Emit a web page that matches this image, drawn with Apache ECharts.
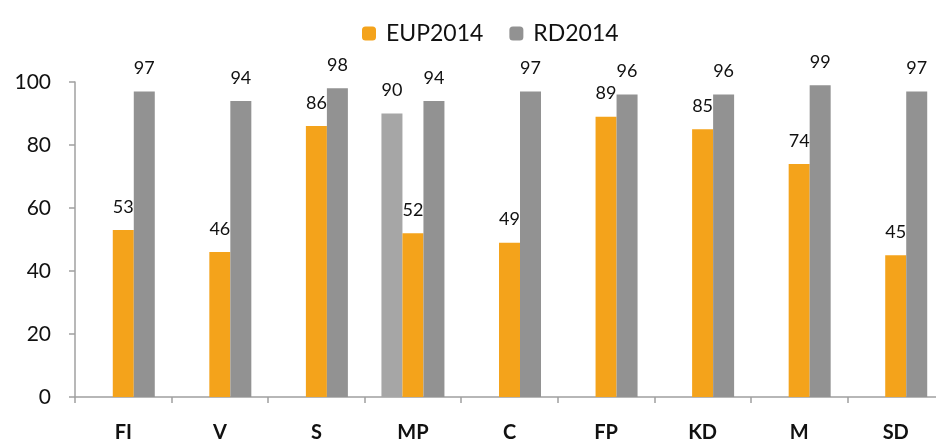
<!DOCTYPE html>
<html><head><meta charset="utf-8">
<script src="https://cdn.jsdelivr.net/npm/echarts@6/dist/echarts.min.js"></script>
<style>html,body{margin:0;padding:0;background:#fff;overflow:hidden}#c{width:936px;height:439px}</style>
</head><body><div id="c"></div>
<script>
const categories = ['FI','V','S','MP','C','FP','KD','M','SD'];
const extraValues = [null,null,null,90,null,null,null,null,null];
const eupValues = [53,46,86,52,49,89,85,74,45];
const rdValues = [97,94,98,94,97,96,96,99,97];
const yTicks = [0,20,40,60,80,100];

const font = 'Lato, "Liberation Sans", sans-serif';
const label = {show:true, position:'top', distance:14, fontSize:18, color:'#111', fontFamily:font};
const chart = echarts.init(document.getElementById('c'));
chart.setOption({
  animation:false,
  textStyle:{fontFamily:font},
  legend:{data:['EUP2014','RD2014'], top:17, left:357, itemWidth:14, itemHeight:14, itemGap:26,
    textStyle:{fontSize:23, color:'#111', fontFamily:font, padding:[0,0,0,5]}},
  grid:{left:75, width:869, top:82, bottom:42, outerBoundsMode:'none', containLabel:false},
  xAxis:{type:'category', data:categories,
    axisLine:{lineStyle:{color:'#A0A0A0', width:1.5}},
    axisTick:{show:true, length:6, lineStyle:{color:'#A0A0A0', width:1.5}},
    axisLabel:{fontSize:20, fontWeight:'bold', color:'#111', margin:26, fontFamily:font}},
  yAxis:{type:'value', min:yTicks[0], max:yTicks[yTicks.length-1], interval:20,
    splitLine:{show:false},
    axisLine:{show:true, lineStyle:{color:'#A0A0A0', width:1.5}},
    axisTick:{show:true, length:6, lineStyle:{color:'#A0A0A0', width:1.5}},
    axisLabel:{fontSize:21, color:'#111', margin:24, fontFamily:font}},
  series:[
    {name:'extra', type:'bar', data:extraValues, barWidth:21, barGap:'0%', itemStyle:{color:'#A6A6A6'}, label},
    {name:'EUP2014', type:'bar', data:eupValues, barWidth:21, barGap:'0%', itemStyle:{color:'#F4A31B'}, label},
    {name:'RD2014', type:'bar', data:rdValues, barWidth:21, barGap:'0%', itemStyle:{color:'#929292'}, label}
  ]
});
</script></body></html>
